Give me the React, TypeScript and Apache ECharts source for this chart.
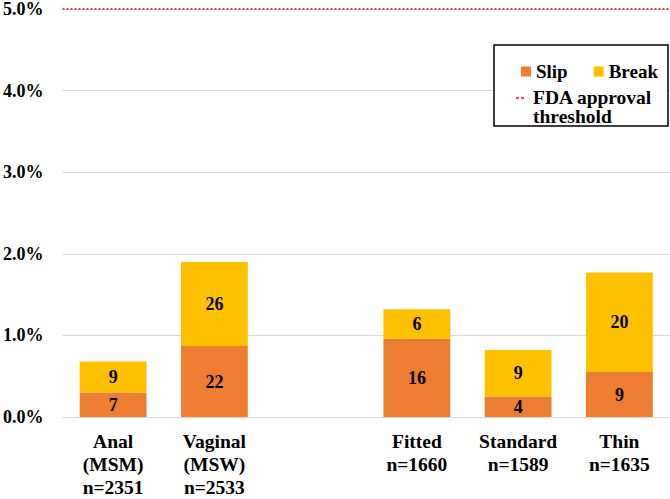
import React, { useEffect, useRef } from "react";
import * as echarts from "echarts";

const categories = [
  "Anal\n(MSM)\nn=2351",
  "Vaginal\n(MSW)\nn=2533",
  "",
  "Fitted\nn=1660",
  "Standard\nn=1589",
  "Thin\nn=1635",
];
// percentages
const slipPct = [0.3, 0.87, null, 0.96, 0.25, 0.55];
const breakPct = [0.38, 1.03, null, 0.36, 0.57, 1.22];
// counts shown as data labels
const slipCounts = [7, 22, null, 16, 4, 9];
const breakCounts = [9, 26, null, 6, 9, 20];
const yTicks = [0, 1, 2, 3, 4, 5];
const threshold = 5;

const FONT = "Liberation Serif";

export default function App() {
  const ref = useRef<HTMLDivElement>(null);
  useEffect(() => {
    if (!ref.current) return;
    const chart = echarts.init(ref.current, null, { renderer: "svg" });
    const labelStyle = {
      show: true,
      position: "inside",
      color: "#000",
      fontFamily: FONT,
      fontWeight: "bold",
      fontSize: 18,
    };
    chart.setOption({
      animation: false,
      backgroundColor: "#fff",
      textStyle: { fontFamily: FONT },
      grid: { left: 62, right: -2, top: 7.5, bottom: 78, containLabel: false },
      xAxis: {
        type: "category",
        data: categories,
        axisLine: { show: true, lineStyle: { color: "#D9D9D9", width: 1 } },
        axisTick: { show: false },
        axisLabel: {
          color: "#000",
          fontFamily: FONT,
          fontWeight: "bold",
          fontSize: 19.5,
          lineHeight: 23,
          margin: 13,
          interval: 0,
          verticalAlign: "top",
        },
      },
      yAxis: {
        type: "value",
        min: yTicks[0],
        max: yTicks[yTicks.length - 1],
        interval: 1,
        axisLine: { show: false },
        axisTick: { show: false },
        splitLine: { show: true, lineStyle: { color: "#D9D9D9", width: 1 } },
        axisLabel: {
          color: "#000",
          fontFamily: FONT,
          fontWeight: "bold",
          fontSize: 18,
          margin: 19,
          formatter: (v: number) => v.toFixed(1) + "%",
        },
      },
      legend: {
        data: ["Slip", "Break"],
        left: 516,
        top: 57,
        icon: "rect",
        itemWidth: 10,
        itemHeight: 10,
        itemGap: 26,
        z: 10,
        textStyle: {
          color: "#000",
          fontFamily: FONT,
          fontWeight: "bold",
          fontSize: 19,
        },
      },
      graphic: [
        {
          type: "rect",
          z: 5,
          shape: { x: 494, y: 45, width: 174, height: 81 },
          style: { fill: "#fff", stroke: "#000", lineWidth: 1.5 },
        },
        {
          type: "line",
          z: 11,
          shape: { x1: 516, y1: 98, x2: 526, y2: 98 },
          style: { stroke: "#FF0000", lineWidth: 1.5, lineDash: [3, 2] },
        },
        {
          type: "text",
          z: 11,
          x: 533,
          y: 88,
          style: {
            text: "FDA approval\nthreshold",
            fill: "#000",
            fontFamily: FONT,
            fontWeight: "bold",
            fontSize: 19.5,
            lineHeight: 19,
            verticalAlign: "top",
          },
        },
      ],
      series: [
        {
          name: "Slip",
          type: "bar",
          stack: "total",
          barWidth: "66%",
          data: slipPct,
          itemStyle: { color: "#ED7D31" },
          label: {
            ...labelStyle,
            formatter: (p: any) => String(slipCounts[p.dataIndex] ?? ""),
          },
          markLine: {
            silent: true,
            symbol: "none",
            label: { show: false },
            lineStyle: { color: "#FF0000", type: [2, 2], width: 1.5 },
            data: [{ yAxis: threshold }],
          },
        },
        {
          name: "Break",
          type: "bar",
          stack: "total",
          barWidth: "66%",
          data: breakPct,
          itemStyle: { color: "#FFC000" },
          label: {
            ...labelStyle,
            formatter: (p: any) => String(breakCounts[p.dataIndex] ?? ""),
          },
        },
      ],
    });
    return () => chart.dispose();
  }, []);
  return (
    <div
      ref={ref}
      style={{ position: "fixed", left: 0, top: 0, width: 670, height: 499 }}
    />
  );
}
